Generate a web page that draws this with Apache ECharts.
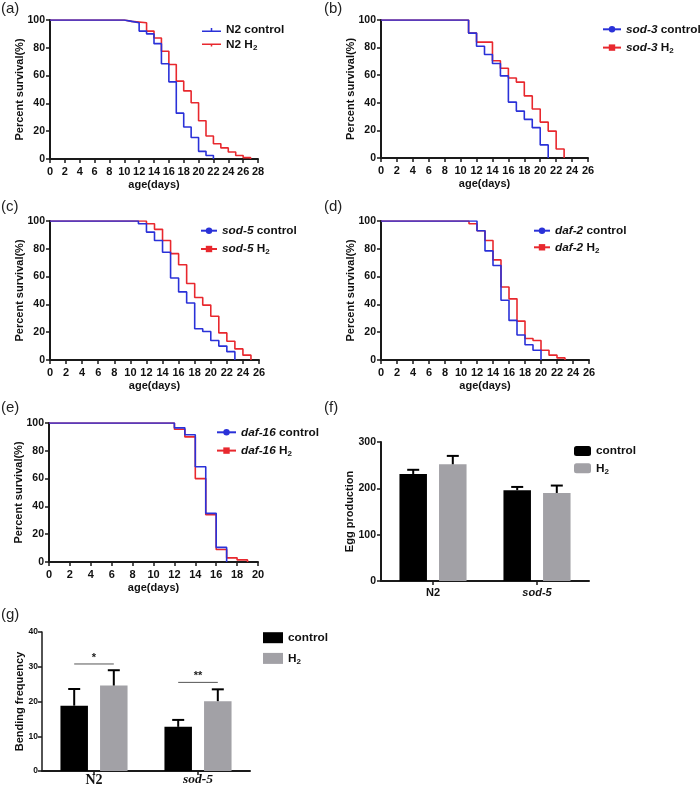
<!DOCTYPE html>
<html><head><meta charset="utf-8">
<script src="https://cdn.jsdelivr.net/npm/echarts/dist/echarts.min.js"></script>
<style>html,body{margin:0;padding:0;background:#fff}#c{width:700px;height:792px}</style>
</head><body><div id="c"></div>
<script>
// ---------------- DATA ----------------
// (a) N2
const aCtrlDays = [0,10,11,12,13,14,15,16,17,18,19,20,21,22];
const aCtrlSurv = [100,99,98,92,90,83,68.5,55.5,33,23,15.5,5.5,2.5,0];
const aH2Days   = [0,10,11,13,14,15,16,17,18,19,20,21,22,23,24,25,26,27];
const aH2Surv   = [100,99,98,92,87,77.5,68,56,49,40.5,27.5,16.5,11,8,5,2.5,1,0];
// (b) sod-3
const bCtrlDays = [0,11,12,13,14,15,16,17,18,19,20,21];
const bCtrlSurv = [100,90.5,81,75,68.5,59.5,40.5,34,28,22,9.5,0];
const bH2Days   = [0,11,12,14,15,16,17,18,19,20,21,22,23];
const bH2Surv   = [100,90.5,84,70.5,65,58,55,45,35.5,26,19.5,6.5,0];
// (c) sod-5
const cCtrlDays = [0,11,12,13,14,15,16,17,18,19,20,21,22,23];
const cCtrlSurv = [100,98,92,86,77.5,59,49,41,22.5,20.5,14,10,6,0];
const cH2Days   = [0,12,13,14,15,16,17,18,19,20,21,22,23,24,25];
const cH2Surv   = [100,98,94,86,76.5,68.5,55,45,39.5,31.5,19.5,13.5,8,3.5,0];
// (d) daf-2
const dCtrlDays = [0,12,13,14,15,16,17,18,19,20];
const dCtrlSurv = [100,93,78.5,68,43,28.5,18,11,7,0];
const dH2Days   = [0,11,12,13,14,15,16,17,18,19,20,21,22,23];
const dH2Surv   = [100,98,93,86,72,52.5,44,28,15.5,14,7,3.5,1.5,0];
// (e) daf-16
const eCtrlDays = [0,12,13,14,15,16,17];
const eCtrlSurv = [100,96.5,91.5,68.5,35,10.5,0];
const eH2Days   = [0,12,13,14,15,16,17,18,19];
const eH2Surv   = [100,95.5,90,60,34,9,3,1.5,0];
// (f) egg production
const groups = ['N2','sod-5'];
const eggControl = [231,196];
const eggControlErr = [9,7];
const eggH2 = [252,190];
const eggH2Err = [18,16];
// (g) bending frequency
const bendControl = [18.8,12.7];
const bendControlErr = [4.8,2.0];
const bendH2 = [24.6,20.1];
const bendH2Err = [4.4,3.4];
const sigLevels = [30.8,25.5];
const sigMarks = ['*','**'];

// ---------------- STYLE ----------------
const FONT = '"Liberation Sans", Arial, Helvetica, sans-serif';
const SERIF = '"Liberation Serif", "Times New Roman", serif';
const BLUE = '#2a31d8', RED = '#e8282e', BLACK = '#000000', GREY = '#a2a1a6', INK = '#111111';
const BAR_W = 27.5, GAP_RATIO = 0.44;

const grids = [
  {left:50, top:20, width:208, height:139},
  {left:381, top:20, width:207, height:138},
  {left:50, top:221, width:209, height:139},
  {left:381, top:221, width:208, height:139},
  {left:49, top:423, width:209, height:139},
  {left:381, top:442, width:208, height:139},
  {left:42, top:632, width:208, height:139}
];
grids.forEach(g => { g.containLabel = false; g.outerBoundsMode = 'none'; });

const axLine = {show:true, lineStyle:{color:'#1a1a1a', width:2}};
const axTick = {show:true, inside:false, length:4, lineStyle:{color:'#1a1a1a', width:1.5}};
const nameStyle = {fontFamily:FONT, fontWeight:'bold', fontSize:11, color:INK};

function survX(gi, max, gap) {
  return {gridIndex:gi, type:'value', min:0, max:max, interval:2,
    name:'age(days)', nameLocation:'middle', nameGap:gap, nameMoveOverlap:false, nameTextStyle:nameStyle,
    axisLine:axLine, axisTick:axTick, splitLine:{show:false},
    axisLabel:{fontFamily:FONT, fontWeight:'bold', fontSize:11, color:INK, margin:7}};
}
function survY(gi) {
  return {gridIndex:gi, type:'value', min:0, max:100, interval:20,
    name:'Percent survival(%)', nameLocation:'middle', nameGap:25, nameMoveOverlap:false, nameTextStyle:nameStyle,
    axisLine:axLine, axisTick:axTick, splitLine:{show:false},
    axisLabel:{fontFamily:FONT, fontWeight:'bold', fontSize:10.5, color:INK, margin:5}};
}
function pairs(days, vals) { return days.map((d, i) => [d, vals[i]]); }
function stepSeries(name, gi, days, vals, color, symbol) {
  return {name:name, type:'line', xAxisIndex:gi, yAxisIndex:gi, step:'end',
    data:pairs(days, vals), symbol:symbol, symbolSize:6, showSymbol:false,
    color:color, itemStyle:{color:color}, lineStyle:{color:color, width:1.6},
    silent:true, animation:false};
}
function barSeries(name, gi, vals, color) {
  return {name:name, type:'bar', xAxisIndex:gi, yAxisIndex:gi, data:vals,
    barWidth:BAR_W, barGap:(GAP_RATIO*100)+'%', itemStyle:{color:color}, silent:true, animation:false};
}
function errSeries(gi, vals, errs, side) {
  return {type:'custom', xAxisIndex:gi, yAxisIndex:gi, z:5, silent:true, animation:false,
    data:vals.map((v, i) => [i, v, errs[i]]),
    renderItem:function(p, api) {
      const i = api.value(0), v = api.value(1), e = api.value(2);
      const a = api.coord([i, v]), b = api.coord([i, v + e]);
      const x = a[0] + side * BAR_W * (1 + GAP_RATIO) / 2;
      return {type:'group', children:[
        {type:'line', shape:{x1:x, y1:a[1], x2:x, y2:b[1]}, style:{stroke:'#000', lineWidth:2}},
        {type:'line', shape:{x1:x-6, y1:b[1], x2:x+6, y2:b[1]}, style:{stroke:'#000', lineWidth:2}}
      ]};
    }};
}

const LFS = 11.8;
const RICH = {
  b:{fontFamily:FONT, fontWeight:'bold', fontSize:LFS, color:INK, lineHeight:14},
  i:{fontFamily:FONT, fontWeight:'bold', fontStyle:'italic', fontSize:LFS, color:INK, lineHeight:14},
  s:{fontFamily:FONT, fontWeight:'bold', fontSize:8, color:INK, lineHeight:6, verticalAlign:'bottom'}
};
function fmtLegend(name) {
  const parts = name.split(' ');
  let out = '';
  let gene = null, rest = parts;
  if (parts.length > 1) { gene = parts[0]; rest = parts.slice(1); }
  if (gene) out += (/^(sod|daf)-/.test(gene) ? '{i|' + gene + '}' : '{b|' + gene + '}') + '{b| }';
  const r = rest.join(' ');
  if (r === 'H2') out += '{b|H}{s|2}'; else out += '{b|' + r + '}';
  return out;
}
function legend(left, top, names, opts) {
  return Object.assign({orient:'vertical', left:left, top:top, padding:0, itemGap:4,
    itemWidth:18, itemHeight:8, selectedMode:false, data:names,
    textStyle:{fontFamily:FONT, fontSize:LFS, fontWeight:'bold', color:INK, lineHeight:14, rich:RICH},
    formatter:fmtLegend}, opts || {});
}

const TICK_UP = 'path://M0,4.2h20v1.6H0z M9.2,1.6h1.6v3H9.2z';
const TICK_DN = 'path://M0,1.6h20v1.6H0z M9.2,2h1.6v3H9.2z';

function catX(gi, serif, margin) {
  const rich = serif ? {
    n:{fontFamily:SERIF, fontWeight:'bold', fontSize:14, color:INK},
    i:{fontFamily:SERIF, fontWeight:'bold', fontStyle:'italic', fontSize:13.5, color:INK}
  } : {
    n:{fontFamily:FONT, fontWeight:'bold', fontSize:11, color:INK},
    i:{fontFamily:FONT, fontWeight:'bold', fontStyle:'italic', fontSize:11, color:INK}
  };
  return {gridIndex:gi, type:'category', data:groups, boundaryGap:true,
    axisLine:axLine, axisTick:Object.assign({alignWithLabel:true}, axTick), splitLine:{show:false},
    axisLabel:{margin:margin, rich:rich, formatter:v => (/^(sod|daf)-/.test(v) ? '{i|' + v + '}' : '{n|' + v + '}')}};
}

const option = {
  animation:false,
  backgroundColor:'#ffffff',
  textStyle:{fontFamily:FONT},
  title:[
    ['(a)',1,1],['(b)',324,1],['(c)',1,199],['(d)',324,199],['(e)',1,400],['(f)',324,400],['(g)',1,607]
  ].map(t => ({text:t[0], left:t[1], top:t[2], padding:0,
    textStyle:{fontFamily:FONT, fontSize:15, fontWeight:'normal', color:'#222'}})),
  grid:grids,
  xAxis:[
    survX(0, 28, 20), survX(1, 26, 20), survX(2, 26, 20), survX(3, 26, 20), survX(4, 20, 20),
    catX(5, false, 6), catX(6, true, 2)
  ],
  yAxis:[
    survY(0), survY(1), survY(2), survY(3), survY(4),
    {gridIndex:5, type:'value', min:0, max:300, interval:100,
      name:'Egg production', nameLocation:'middle', nameGap:26, nameMoveOverlap:false, nameTextStyle:nameStyle,
      axisLine:axLine, axisTick:axTick, splitLine:{show:false},
      axisLabel:{fontFamily:FONT, fontWeight:'bold', fontSize:10.5, color:INK, margin:5}},
    {gridIndex:6, type:'value', min:0, max:40, interval:10,
      name:'Bending frequency', nameLocation:'middle', nameGap:17, nameMoveOverlap:false, nameTextStyle:nameStyle,
      axisLine:{show:true, lineStyle:{color:'#1a1a1a', width:1.5}}, axisTick:axTick, splitLine:{show:false},
      axisLabel:{fontFamily:FONT, fontWeight:'bold', fontSize:8.5, color:INK, margin:4}}
  ],
  legend:[
    legend(202, 23, [{name:'N2 control', icon:TICK_UP}, {name:'N2 H2', icon:TICK_DN}], {itemWidth:19, itemHeight:6, itemGap:1}),
    legend(602, 22.3, ['sod-3 control','sod-3 H2'], {itemWidth:18, itemGap:4.3}),
    legend(200, 223.7, ['sod-5 control','sod-5 H2'], {itemWidth:16, itemGap:4.3}),
    legend(533, 223.7, ['daf-2 control','daf-2 H2'], {itemWidth:16, itemGap:2.6}),
    legend(216, 425.3, ['daf-16 control','daf-16 H2'], {itemWidth:19, itemGap:4.3}),
    legend(574, 444, [{name:'control', icon:'roundRect'}, {name:'H2', icon:'roundRect'}], {itemWidth:17, itemHeight:10, itemGap:3.3}),
    legend(263, 630.7, [{name:'control', icon:'rect'}, {name:'H2', icon:'rect'}], {itemWidth:20, itemHeight:11, itemGap:6.7})
  ],
  series:[
    stepSeries('N2 H2', 0, aH2Days, aH2Surv, RED, 'none'),
    stepSeries('N2 control', 0, aCtrlDays, aCtrlSurv, BLUE, 'none'),
    stepSeries('sod-3 H2', 1, bH2Days, bH2Surv, RED, 'rect'),
    stepSeries('sod-3 control', 1, bCtrlDays, bCtrlSurv, BLUE, 'circle'),
    stepSeries('sod-5 H2', 2, cH2Days, cH2Surv, RED, 'rect'),
    stepSeries('sod-5 control', 2, cCtrlDays, cCtrlSurv, BLUE, 'circle'),
    stepSeries('daf-2 H2', 3, dH2Days, dH2Surv, RED, 'rect'),
    stepSeries('daf-2 control', 3, dCtrlDays, dCtrlSurv, BLUE, 'circle'),
    stepSeries('daf-16 H2', 4, eH2Days, eH2Surv, RED, 'rect'),
    stepSeries('daf-16 control', 4, eCtrlDays, eCtrlSurv, BLUE, 'circle'),
    barSeries('control', 5, eggControl, BLACK),
    barSeries('H2', 5, eggH2, GREY),
    errSeries(5, eggControl, eggControlErr, -1),
    errSeries(5, eggH2, eggH2Err, 1),
    barSeries('control', 6, bendControl, BLACK),
    barSeries('H2', 6, bendH2, GREY),
    errSeries(6, bendControl, bendControlErr, -1),
    errSeries(6, bendH2, bendH2Err, 1),
    {type:'custom', xAxisIndex:6, yAxisIndex:6, z:6, silent:true, animation:false,
      data:sigLevels.map((l, i) => [i, l]),
      renderItem:function(p, api) {
        const c = api.coord([api.value(0), api.value(1)]);
        const half = BAR_W * (1 + GAP_RATIO) / 2;
        return {type:'group', children:[
          {type:'line', shape:{x1:c[0]-half, y1:c[1], x2:c[0]+half, y2:c[1]}, style:{stroke:'#555', lineWidth:1}},
          {type:'text', x:c[0], y:c[1]-1, style:{text:sigMarks[p.dataIndex], align:'center', verticalAlign:'bottom',
            fontFamily:FONT, fontSize:11, fontWeight:'bold', fill:'#222'}}
        ]};
      }}
  ]
};
const chart = echarts.init(document.getElementById('c'), null, {renderer:'canvas'});
chart.setOption(option);
</script></body></html>
